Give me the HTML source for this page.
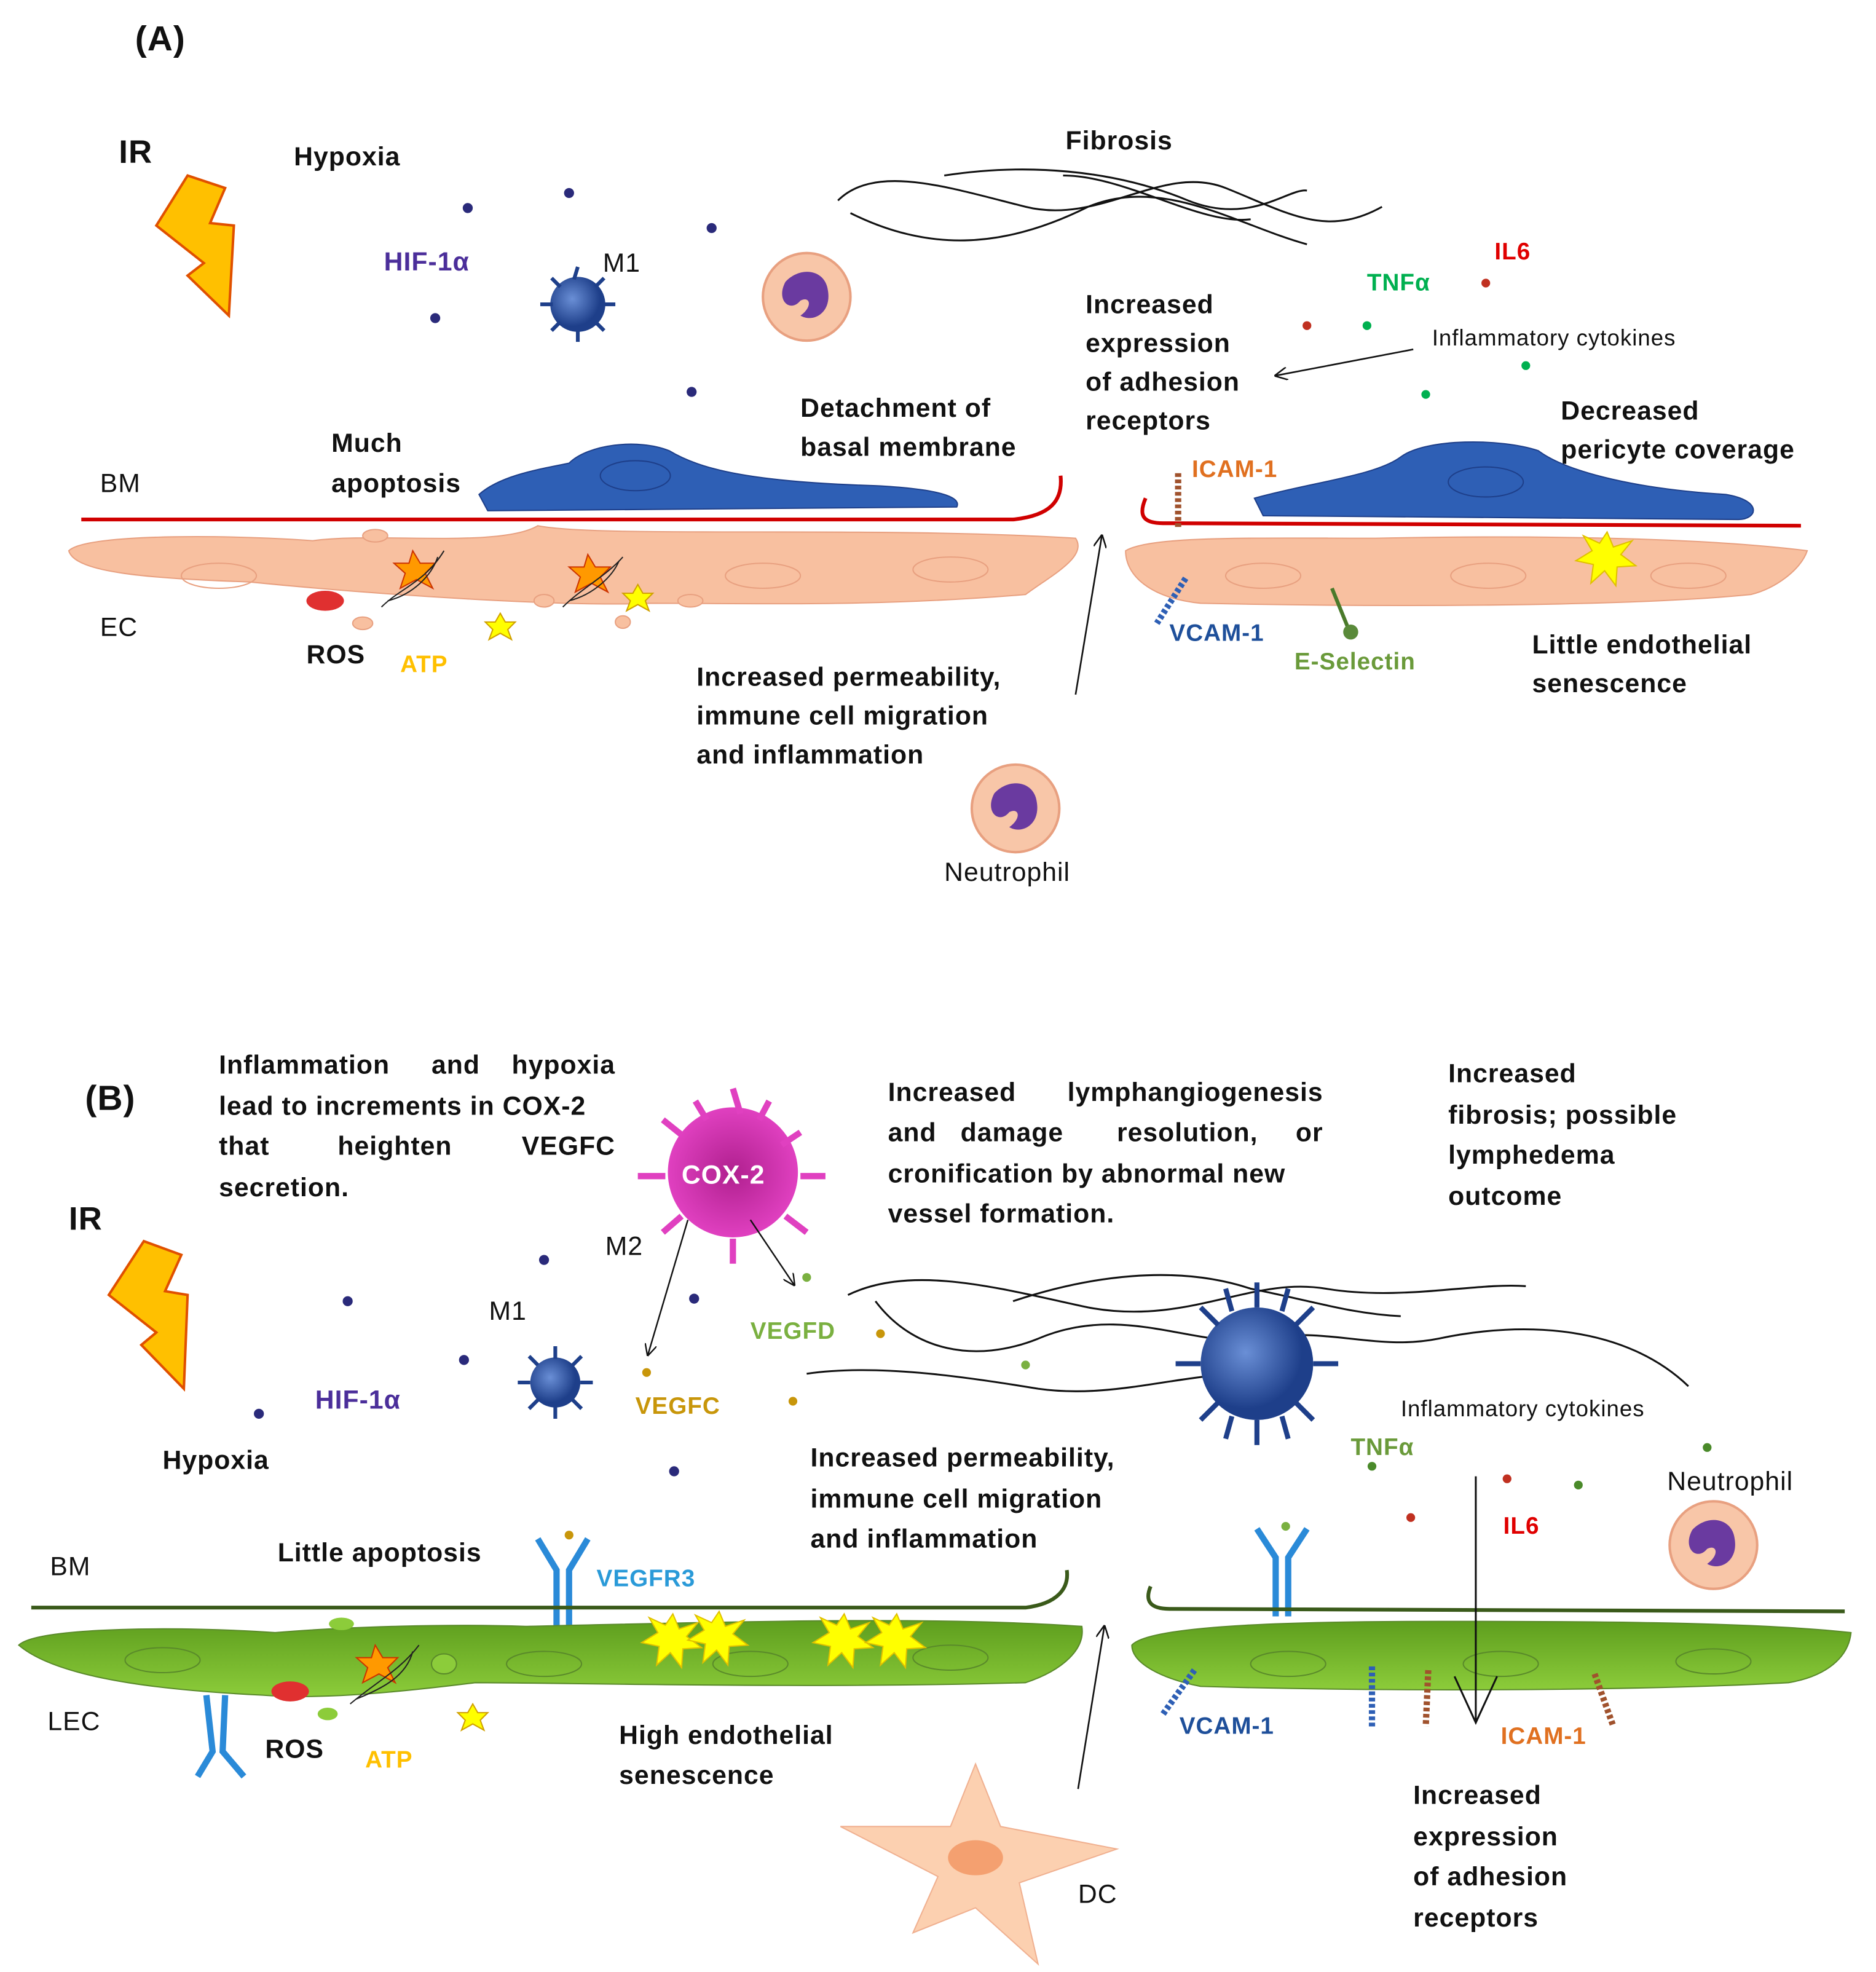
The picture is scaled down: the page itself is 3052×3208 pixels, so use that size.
<!DOCTYPE html>
<html><head><meta charset="utf-8"><style>
html,body{margin:0;padding:0;background:#fff}
svg{display:block}
text{font-family:"Liberation Sans",sans-serif;font-size:21px;letter-spacing:0.5px;font-weight:bold;fill:#111}
.n{font-weight:normal}
.e{text-anchor:end}
</style></head><body>
<svg width="3052" height="3208" viewBox="0 0 1500 1576" xmlns="http://www.w3.org/2000/svg">
<defs>
<marker id="ah" viewBox="0 0 10 10" refX="9" refY="5" markerWidth="8" markerHeight="8" orient="auto"><path d="M0,0L10,5L0,10" fill="none" stroke="#111" stroke-width="1.2"/></marker>
<radialGradient id="bl" cx="0.4" cy="0.4"><stop offset="0" stop-color="#6a8fd6"/><stop offset="1" stop-color="#1e3f8a"/></radialGradient>
<radialGradient id="mg" cx="0.5" cy="0.5"><stop offset="0" stop-color="#b0208f"/><stop offset="1" stop-color="#e040c0"/></radialGradient>
<linearGradient id="gr" x1="0" y1="0" x2="0" y2="1"><stop offset="0" stop-color="#5e9e1e"/><stop offset="1" stop-color="#8ccc3a"/></linearGradient>
</defs>

<!-- ===== (A) ===== -->
<text x="108" y="40" style="font-size:28px">(A)</text>
<text x="95" y="130" style="font-size:26px">IR</text>
<path d="M150,140 L125,180 L163,210 L150,220 L183,252 L187,180 L168,178 L180,150 Z" fill="#ffc000" stroke="#e05000" stroke-width="2"/>
<text x="235" y="132">Hypoxia</text>
<text x="307" y="216" style="fill:#4b2e9a">HIF-1α</text>
<text x="482" y="217" class="n">M1</text>
<g fill="#2a2a7a"><circle cx="374" cy="166" r="4"/><circle cx="455" cy="154" r="4"/><circle cx="569" cy="182" r="4"/><circle cx="348" cy="254" r="4"/><circle cx="553" cy="313" r="4"/></g>
<g><circle cx="462" cy="243" r="22" fill="url(#bl)"/><path d="M462,213 l-3,10 M462,273 l0,-10 M432,243 l10,0 M492,243 l-10,0 M441,222 l7,7 M483,222 l-7,7 M441,264 l7,-7 M483,264 l-7,-7" stroke="#1e3f8a" stroke-width="3"/></g>
<text x="852" y="119">Fibrosis</text>
<path d="M670,160 C700,130 760,150 820,165 C880,180 930,130 980,150 C1030,170 1060,190 1105,165 M680,170 C740,200 800,200 870,165 C930,140 990,180 1045,195 M755,140 C820,130 890,135 950,160 C1000,180 1030,150 1045,152 M850,140 C900,140 960,180 1000,175" fill="none" stroke="#111" stroke-width="1.5"/>
<circle cx="645" cy="237" r="35" fill="#f8c6a8" stroke="#e8a080" stroke-width="2"/>
<path d="M628,225 C640,212 660,215 662,232 C665,250 650,258 640,252 C650,245 648,236 640,240 C632,250 620,240 628,225Z" fill="#6a3aa0"/>
<text x="868" y="250">Increased</text><text x="868" y="281">expression</text><text x="868" y="312">of adhesion</text><text x="868" y="343">receptors</text>
<text x="1093" y="232" style="fill:#00b050;font-size:19px">TNFα</text>
<text x="1195" y="207" style="fill:#e00000;font-size:19px">IL6</text>
<text x="1145" y="276" class="n" style="font-size:18px">Inflammatory cytokines</text>
<line x1="1130" y1="279" x2="1020" y2="300" stroke="#111" stroke-width="1.3" marker-end="url(#ah)"/>
<g><circle cx="1045" cy="260" r="3.5" fill="#c03020"/><circle cx="1188" cy="226" r="3.5" fill="#c03020"/><circle cx="1093" cy="260" r="3.5" fill="#00b050"/><circle cx="1220" cy="292" r="3.5" fill="#00b050"/><circle cx="1140" cy="315" r="3.5" fill="#00b050"/></g>
<text x="1248" y="335">Decreased</text><text x="1248" y="366">pericyte coverage</text>
<text x="640" y="333">Detachment of</text><text x="640" y="364">basal membrane</text>
<text x="265" y="361">Much</text><text x="265" y="393">apoptosis</text>
<text x="80" y="393" class="n">BM</text>
<path d="M383,395 C400,380 430,375 455,370 C470,355 510,350 535,360 C560,375 600,385 700,388 C740,390 770,395 765,405 L390,408 Z" fill="#2e5fb5" stroke="#1e3f8a"/>
<ellipse cx="508" cy="380" rx="28" ry="12" fill="none" stroke="#1e3f8a"/>
<path d="M1003,398 C1050,385 1100,380 1120,365 C1140,350 1200,350 1230,360 C1250,375 1300,390 1380,395 C1410,400 1405,415 1390,415 L1010,412 Z" fill="#2e5fb5" stroke="#1e3f8a"/>
<ellipse cx="1188" cy="385" rx="30" ry="12" fill="none" stroke="#1e3f8a"/>
<path d="M65,415 L810,415 C840,412 850,400 848,380" fill="none" stroke="#d00000" stroke-width="3"/>
<path d="M916,398 C910,412 914,418 930,418 L1440,420" fill="none" stroke="#d00000" stroke-width="3"/>
<path d="M55,440 C70,425 200,428 250,432 C300,425 400,438 430,420 C480,430 700,420 860,430 C870,445 840,460 820,475 C700,485 600,482 520,482 C450,485 300,475 200,465 C120,462 60,458 55,440Z" fill="#f8c0a0" stroke="#e8a080"/>
<path d="M900,440 C920,428 1000,430 1100,430 C1200,428 1350,428 1445,440 C1440,455 1420,470 1400,475 C1300,485 1100,485 960,482 C920,478 900,460 900,440Z" fill="#f8c0a0" stroke="#e8a080"/>
<g fill="none" stroke="#e8a080"><ellipse cx="175" cy="460" rx="30" ry="10"/><ellipse cx="610" cy="460" rx="30" ry="10"/><ellipse cx="760" cy="455" rx="30" ry="10"/><ellipse cx="1010" cy="460" rx="30" ry="10"/><ellipse cx="1190" cy="460" rx="30" ry="10"/><ellipse cx="1350" cy="460" rx="30" ry="10"/></g>
<g fill="#f8c0a0" stroke="#e8a080"><ellipse cx="300" cy="428" rx="10" ry="5"/><ellipse cx="290" cy="498" rx="8" ry="5"/><ellipse cx="435" cy="480" rx="8" ry="5"/><ellipse cx="552" cy="480" rx="10" ry="5"/><ellipse cx="498" cy="497" rx="6" ry="5"/></g>
<ellipse cx="260" cy="480" rx="15" ry="8" fill="#e03030"/>
<polygon points="330,440 336,450 348,450 340,458 346,470 333,463 320,470 324,458 315,450 327,450" fill="#ff9900" stroke="#cc3300"/>
<polygon points="470,443 476,453 488,453 480,461 486,473 473,466 460,473 464,461 455,453 467,453" fill="#ff9900" stroke="#cc3300"/>
<path d="M305,485 C320,470 340,465 355,440 M310,480 C330,475 345,460 350,445 M450,485 C465,470 485,460 498,445 M455,480 C475,475 490,460 495,448" stroke="#222" fill="none"/>
<polygon points="400,490 404,497 412,497 406,503 409,511 400,506 391,511 394,503 388,497 396,497" fill="#ffff00" stroke="#d0a000"/>
<polygon points="510,467 514,474 522,474 516,480 519,488 510,483 501,488 504,480 498,474 506,474" fill="#ffff00" stroke="#d0a000"/>
<polygon points="1285,425 1290,437 1305,432 1296,443 1308,452 1293,453 1292,468 1283,456 1272,466 1274,451 1260,448 1273,440 1266,428 1279,434" fill="#ffff00" stroke="#e0c000"/>
<text x="80" y="508" class="n">EC</text>
<text x="245" y="530">ROS</text>
<text x="320" y="537" style="fill:#ffc000;font-size:19px">ATP</text>
<text x="557" y="548">Increased permeability,</text><text x="557" y="579">immune cell migration</text><text x="557" y="610">and inflammation</text>
<line x1="860" y1="555" x2="881" y2="428" stroke="#111" stroke-width="1.3" marker-end="url(#ah)"/>
<line x1="942" y1="378" x2="942" y2="423" stroke="#a0522d" stroke-width="5" stroke-dasharray="3,2"/>
<text x="953" y="381" style="fill:#e07020;font-size:19px">ICAM-1</text>
<line x1="948" y1="462" x2="925" y2="498" stroke="#2e5fb5" stroke-width="5" stroke-dasharray="3,2"/>
<text x="935" y="512" style="fill:#1e4f9a;font-size:19px">VCAM-1</text>
<line x1="1065" y1="470" x2="1078" y2="502" stroke="#4a7a2a" stroke-width="3"/><circle cx="1080" cy="505" r="6" fill="#5a8a3a"/>
<text x="1035" y="535" style="fill:#6a9a3a;font-size:19px">E-Selectin</text>
<text x="1225" y="522">Little endothelial</text><text x="1225" y="553">senescence</text>
<circle cx="812" cy="646" r="35" fill="#f8c6a8" stroke="#e8a080" stroke-width="2"/>
<path d="M795,634 C807,621 827,624 829,641 C832,659 817,667 807,661 C817,654 815,645 807,649 C799,659 787,649 795,634Z" fill="#6a3aa0"/>
<text x="755" y="704" class="n">Neutrophil</text>

<!-- ===== (B) ===== -->
<text x="68" y="887" style="font-size:28px">(B)</text>
<text x="175" y="858">Inflammation</text><text x="345" y="858">and</text><text x="492" y="858" class="e">hypoxia</text>
<text x="175" y="891">lead to increments in COX-2</text>
<text x="175" y="923">that</text><text x="270" y="923">heighten</text><text x="492" y="923" class="e">VEGFC</text>
<text x="175" y="956">secretion.</text>
<g><circle cx="586" cy="937" r="52" fill="url(#mg)"/>
<path d="M586,870 L592,890 M640,905 L625,915 M660,940 L640,940 M645,985 L628,972 M586,1010 L586,990 M530,985 L545,972 M510,940 L532,940 M530,895 L545,907 M615,880 L607,895 M556,880 L565,895" stroke="#e040c0" stroke-width="5"/>
<text x="545" y="946" style="fill:#fff">COX-2</text></g>
<text x="484" y="1003" class="n">M2</text>
<text x="710" y="880">Increased</text><text x="1058" y="880" class="e">lymphangiogenesis</text>
<text x="710" y="912">and</text><text x="768" y="912">damage</text><text x="893" y="912">resolution,</text><text x="1058" y="912" class="e">or</text>
<text x="710" y="945">cronification by abnormal new</text>
<text x="710" y="977">vessel formation.</text>
<text x="1158" y="865">Increased</text><text x="1158" y="898">fibrosis; possible</text><text x="1158" y="930">lymphedema</text><text x="1158" y="963">outcome</text>
<text x="55" y="983" style="font-size:26px">IR</text>
<path d="M115,992 L87,1035 L125,1065 L113,1075 L147,1110 L150,1035 L132,1032 L145,1003 Z" fill="#ffc000" stroke="#e05000" stroke-width="2"/>
<text x="391" y="1055" class="n">M1</text>
<g fill="#2a2a7a"><circle cx="435" cy="1007" r="4"/><circle cx="278" cy="1040" r="4"/><circle cx="555" cy="1038" r="4"/><circle cx="371" cy="1087" r="4"/><circle cx="207" cy="1130" r="4"/><circle cx="539" cy="1176" r="4"/></g>
<g><circle cx="444" cy="1105" r="20" fill="url(#bl)"/><path d="M444,1076 l0,10 M444,1134 l0,-10 M414,1105 l10,0 M474,1105 l-10,0 M423,1084 l7,7 M465,1084 l-7,7 M423,1126 l7,-7 M465,1126 l-7,-7" stroke="#1e3f8a" stroke-width="3"/></g>
<text x="252" y="1126" style="fill:#4b2e9a">HIF-1α</text>
<text x="130" y="1174">Hypoxia</text>
<text x="508" y="1130" style="fill:#c8960a;font-size:19px">VEGFC</text>
<text x="600" y="1070" style="fill:#7ab040;font-size:19px">VEGFD</text>
<line x1="550" y1="975" x2="518" y2="1083" stroke="#111" stroke-width="1.2" marker-end="url(#ah)"/>
<line x1="600" y1="975" x2="635" y2="1027" stroke="#111" stroke-width="1.2" marker-end="url(#ah)"/>
<g><circle cx="517" cy="1097" r="3.5" fill="#c8960a"/><circle cx="634" cy="1120" r="3.5" fill="#c8960a"/><circle cx="704" cy="1066" r="3.5" fill="#c8960a"/><circle cx="455" cy="1227" r="3.5" fill="#c8960a"/><circle cx="645" cy="1021" r="3.5" fill="#7ab040"/><circle cx="820" cy="1091" r="3.5" fill="#7ab040"/></g>
<path d="M678,1035 C730,1010 800,1030 870,1045 C950,1060 1000,1020 1060,1030 C1120,1040 1180,1025 1220,1028 M700,1040 C730,1080 780,1090 830,1070 C900,1040 960,1080 1010,1070 C1060,1060 1100,1080 1150,1070 C1220,1055 1300,1060 1350,1108 M645,1098 C700,1090 770,1100 830,1110 C900,1120 960,1090 1030,1100 M810,1040 C870,1020 940,1010 1000,1030 C1050,1040 1080,1050 1120,1052" fill="none" stroke="#111" stroke-width="1.5"/>
<g><circle cx="1005" cy="1090" r="45" fill="url(#bl)"/><path d="M1005,1025 l0,20 M1005,1155 l0,-20 M940,1090 l20,0 M1070,1090 l-20,0 M960,1045 l14,14 M1050,1045 l-14,14 M960,1135 l14,-14 M1050,1135 l-14,-14 M980,1030 l5,18 M1030,1030 l-5,18 M980,1150 l5,-18 M1030,1150 l-5,-18" stroke="#1e3f8a" stroke-width="4"/></g>
<text x="1120" y="1132" class="n" style="font-size:18px">Inflammatory cytokines</text>
<text x="1080" y="1163" style="fill:#6a9a3a;font-size:19px">TNFα</text>
<text x="1202" y="1226" style="fill:#e00000;font-size:19px">IL6</text>
<g><circle cx="1097" cy="1172" r="3.5" fill="#4a8a2a"/><circle cx="1262" cy="1187" r="3.5" fill="#4a8a2a"/><circle cx="1365" cy="1157" r="3.5" fill="#4a8a2a"/><circle cx="1028" cy="1220" r="3.5" fill="#7ab040"/><circle cx="1205" cy="1182" r="3.5" fill="#c03020"/><circle cx="1128" cy="1213" r="3.5" fill="#c03020"/></g>
<text x="1333" y="1191" class="n">Neutrophil</text>
<circle cx="1370" cy="1235" r="35" fill="#f8c6a8" stroke="#e8a080" stroke-width="2"/>
<path d="M1353,1223 C1365,1210 1385,1213 1387,1230 C1390,1248 1375,1256 1365,1250 C1375,1243 1373,1234 1365,1238 C1357,1248 1345,1238 1353,1223Z" fill="#6a3aa0"/>
<text x="648" y="1172">Increased permeability,</text><text x="648" y="1205">immune cell migration</text><text x="648" y="1237">and inflammation</text>
<text x="222" y="1248">Little apoptosis</text>
<text x="40" y="1259" class="n">BM</text>
<text x="477" y="1268" style="fill:#2a9ad8;font-size:19px">VEGFR3</text>
<path d="M430,1230 L445,1255 L445,1300 M470,1230 L455,1255 L455,1300" stroke="#2a8ad8" stroke-width="5" fill="none"/>
<path d="M1005,1222 L1020,1245 L1020,1292 M1045,1222 L1030,1245 L1030,1292" stroke="#2a8ad8" stroke-width="5" fill="none"/>
<path d="M25,1285 L820,1285 C845,1282 855,1270 853,1255" fill="none" stroke="#3a5a1a" stroke-width="3"/>
<path d="M920,1268 C915,1280 920,1286 935,1286 L1475,1288" fill="none" stroke="#3a5a1a" stroke-width="3"/>
<path d="M15,1315 C30,1300 150,1300 220,1305 C280,1300 360,1298 420,1300 C600,1296 750,1292 865,1300 C868,1318 850,1335 820,1345 C650,1350 450,1345 380,1345 C300,1355 250,1358 210,1355 C150,1352 50,1345 15,1315Z" fill="url(#gr)" stroke="#5a8a2a"/>
<path d="M905,1315 C920,1298 1050,1296 1150,1296 C1250,1296 1400,1296 1480,1305 C1478,1325 1460,1340 1430,1345 C1300,1352 1100,1352 960,1348 C930,1342 905,1330 905,1315Z" fill="url(#gr)" stroke="#5a8a2a"/>
<g fill="none" stroke="#5a8a2a"><ellipse cx="130" cy="1327" rx="30" ry="10"/><ellipse cx="435" cy="1330" rx="30" ry="10"/><ellipse cx="600" cy="1330" rx="30" ry="10"/><ellipse cx="760" cy="1325" rx="30" ry="10"/><ellipse cx="1030" cy="1330" rx="30" ry="10"/><ellipse cx="1200" cy="1330" rx="30" ry="10"/><ellipse cx="1370" cy="1328" rx="30" ry="10"/></g>
<g fill="#8ccc3a"><ellipse cx="273" cy="1298" rx="10" ry="5"/><ellipse cx="262" cy="1370" rx="8" ry="5"/><ellipse cx="355" cy="1330" rx="10" ry="8" stroke="#5a8a2a"/></g>
<ellipse cx="232" cy="1352" rx="15" ry="8" fill="#e03030"/>
<polygon points="300,1315 306,1325 318,1325 310,1333 316,1345 303,1338 290,1345 294,1333 285,1325 297,1325" fill="#ff9900" stroke="#cc3300"/>
<path d="M280,1362 C300,1345 320,1335 335,1315 M285,1358 C305,1350 325,1340 330,1320" stroke="#222" fill="none"/>
<polygon points="378,1362 382,1369 390,1369 384,1375 387,1383 378,1378 369,1383 372,1375 366,1369 374,1369" fill="#ffff00" stroke="#d0a000"/>
<g fill="#ffff00" stroke="#e0c000">
<polygon points="538,1290 543,1302 558,1297 549,1308 561,1317 546,1318 545,1333 536,1321 525,1331 527,1316 513,1313 526,1305 519,1293 532,1299"/>
<polygon points="575,1288 580,1300 595,1295 586,1306 598,1315 583,1316 582,1331 573,1319 562,1329 564,1314 550,1311 563,1303 556,1291 569,1297"/>
<polygon points="675,1290 680,1302 695,1297 686,1308 698,1317 683,1318 682,1333 673,1321 662,1331 664,1316 650,1313 663,1305 656,1293 669,1299"/>
<polygon points="717,1290 722,1302 737,1297 728,1308 740,1317 725,1318 724,1333 715,1321 704,1331 706,1316 692,1313 705,1305 698,1293 711,1299"/></g>
<path d="M165,1355 L170,1400 L158,1420 M180,1355 L178,1400 L195,1420" stroke="#2a8ad8" stroke-width="5" fill="none"/>
<text x="38" y="1383" class="n">LEC</text>
<text x="212" y="1405">ROS</text>
<text x="292" y="1413" style="fill:#ffc000;font-size:19px">ATP</text>
<text x="495" y="1394">High endothelial</text><text x="495" y="1426">senescence</text>
<path d="M780,1410 L800,1460 L893,1478 L815,1505 L830,1570 L780,1525 L730,1545 L750,1500 L672,1460 L760,1460 Z" fill="#fcd0b0" stroke="#f0b090"/>
<ellipse cx="780" cy="1485" rx="22" ry="14" fill="#f4a070"/>
<text x="862" y="1521" class="n">DC</text>
<line x1="862" y1="1430" x2="883" y2="1300" stroke="#111" stroke-width="1.3" marker-end="url(#ah)"/>
<line x1="955" y1="1335" x2="930" y2="1370" stroke="#2e5fb5" stroke-width="5" stroke-dasharray="3,2"/>
<text x="943" y="1386" style="fill:#1e4f9a;font-size:19px">VCAM-1</text>
<line x1="1097" y1="1332" x2="1097" y2="1380" stroke="#2e5fb5" stroke-width="5" stroke-dasharray="3,2"/>
<line x1="1142" y1="1335" x2="1140" y2="1380" stroke="#a0522d" stroke-width="5" stroke-dasharray="3,2"/>
<line x1="1275" y1="1338" x2="1290" y2="1380" stroke="#a0522d" stroke-width="5" stroke-dasharray="3,2"/>
<text x="1200" y="1394" style="fill:#e07020;font-size:19px">ICAM-1</text>
<line x1="1180" y1="1180" x2="1180" y2="1375" stroke="#111" stroke-width="1.5"/>
<path d="M1163,1340 L1180,1377 L1197,1340" fill="none" stroke="#111" stroke-width="1.5"/>
<text x="1130" y="1442">Increased</text><text x="1130" y="1475">expression</text><text x="1130" y="1507">of adhesion</text><text x="1130" y="1540">receptors</text>
</svg>
</body></html>
